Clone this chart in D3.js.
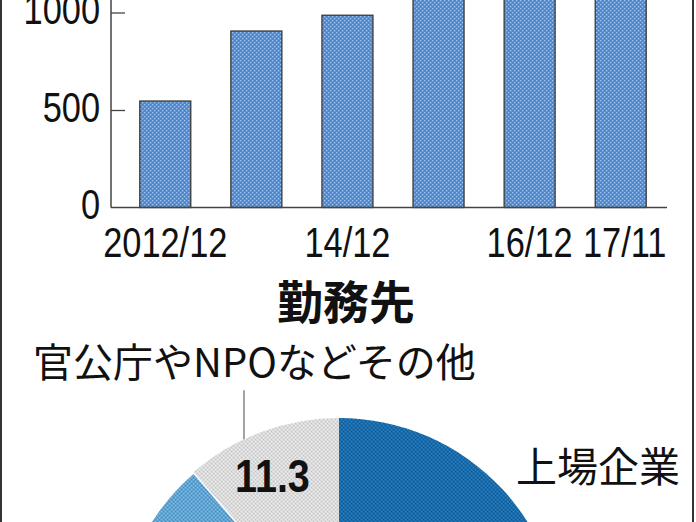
<!DOCTYPE html>
<html>
<head>
<meta charset="utf-8">
<script src="https://cdn.jsdelivr.net/npm/d3@7"></script>
<style>
  html, body { margin: 0; padding: 0; background: #fff; }
  svg { display: block; }
</style>
</head>
<body>
<svg id="chart" width="696" height="522"></svg>
<script>
// ---- data ----
const categories = ["2012/12", "13/12", "14/12", "15/12", "16/12", "17/11"];
const counts = [546, 905, 986, 1150, 1260, 1380];
const xTickLabels = ["2012/12", "", "14/12", "", "16/12", "17/11"];
const yTicks = [0, 500, 1000];

const pieTitle = "勤務先";
const pieLabels = ["上場企業", "非上場企業", "官公庁やNPOなどその他"];
const pieShares = [52.4, 36.3, 11.3];

// ---- setup ----
const svg = d3.select("#chart");
const W = 696, H = 522;
const numFont = "'Liberation Sans', Arial, sans-serif";
const SX = 0.8; // horizontal condensing of numeric labels
const jpFont = "'Noto Sans CJK JP', 'Noto Sans CJK SC', sans-serif";

const defs = svg.append("defs");
function dotPattern(id, base, dot, dark) {
  const p = defs.append("pattern").attr("id", id)
    .attr("width", 4).attr("height", 4).attr("patternUnits", "userSpaceOnUse");
  p.append("rect").attr("width", 4).attr("height", 4).attr("fill", base);
  p.append("rect").attr("x", 0).attr("y", 0).attr("width", 1.3).attr("height", 1.3).attr("fill", dot);
  p.append("rect").attr("x", 2).attr("y", 2).attr("width", 1.3).attr("height", 1.3).attr("fill", dot);
  if (dark) {
    p.append("rect").attr("x", 2).attr("y", 0).attr("width", 1).attr("height", 1).attr("fill", dark);
    p.append("rect").attr("x", 0).attr("y", 2).attr("width", 1).attr("height", 1).attr("fill", dark);
  }
}
dotPattern("barFill", "#4d8ad8", "#9fc6f2", "#4a80c6");
dotPattern("pieDark", "#1768a8", "#3683c0", "#0f5a96");
dotPattern("pieLight", "#5b9fcf", "#8fc0e2", "#4c8cbd");
dotPattern("pieGray", "#d9d9d9", "#eeeeee", "#c2c2c2");

// frame side lines
svg.append("line").attr("x1", 1).attr("x2", 1).attr("y1", 0).attr("y2", H)
  .attr("stroke", "#333").attr("stroke-width", 2);
svg.append("line").attr("x1", 693).attr("x2", 693).attr("y1", 0).attr("y2", H)
  .attr("stroke", "#333").attr("stroke-width", 2);

// ---- bar chart ----
const y = d3.scaleLinear().domain([0, 1000]).range([207.5, 12.5]);
const x = d3.scaleBand().domain(categories).range([119, 667])
  .paddingInner(0.44).paddingOuter(0.228);

const g = svg.append("g");

g.selectAll("rect.bar").data(categories).join("rect")
  .attr("class", "bar")
  .attr("x", d => x(d))
  .attr("width", x.bandwidth())
  .attr("y", (d, i) => y(counts[i]))
  .attr("height", (d, i) => y(0) - y(counts[i]))
  .attr("fill", "url(#barFill)")
  .attr("stroke", "#3a3a3a").attr("stroke-width", 1.3);

// y axis
const yAxis = d3.axisLeft(y).tickValues(yTicks).tickSize(-14).tickPadding(11)
  .tickFormat(d3.format("d"));
const yg = g.append("g").attr("transform", "translate(111,0)").call(yAxis);
yg.select(".domain").remove();
yg.selectAll(".tick line").attr("stroke", "#444").attr("stroke-width", 1.3);
yg.selectAll(".tick text").attr("font-family", numFont).attr("font-size", 43)
  .attr("fill", "#111").attr("dy", "0.26em")
  .attr("x", -11 / SX).attr("transform", `scale(${SX},1)`);
yg.selectAll(".tick").filter(d => d === 0).select("line").remove();
g.append("line").attr("x1", 111).attr("x2", 111)
  .attr("y1", y(0)).attr("y2", y(1100))
  .attr("stroke", "#444").attr("stroke-width", 1.5);

// x axis
const xAxis = d3.axisBottom(x).tickSize(0).tickPadding(19)
  .tickFormat((d, i) => xTickLabels[i]);
const xg = g.append("g").attr("transform", `translate(0,${y(0)})`).call(xAxis);
xg.select(".domain").remove();
xg.selectAll(".tick text").attr("font-family", numFont).attr("font-size", 43)
  .attr("fill", "#111").attr("transform", `scale(${SX},1)`);
xg.selectAll(".tick").filter(d => d === "17/11").select("text").attr("x", 4 / SX);
g.append("line").attr("x1", 111).attr("x2", 667)
  .attr("y1", y(0)).attr("y2", y(0))
  .attr("stroke", "#444").attr("stroke-width", 1.5);

// ---- pie chart ----
const cx = 339, cy = 641, R = 223;
svg.append("text").attr("x", 346).attr("y", 319)
  .attr("text-anchor", "middle").attr("font-family", jpFont)
  .attr("font-weight", 700).attr("font-size", 46).attr("fill", "#111")
  .text(pieTitle);

const pie = d3.pie().sort(null).value(d => d);
const arcs = pie(pieShares);
const arc = d3.arc().innerRadius(0).outerRadius(R);
const fills = ["url(#pieDark)", "url(#pieLight)", "url(#pieGray)"];

const pg = svg.append("g").attr("transform", `translate(${cx},${cy})`);
pg.selectAll("path").data(arcs).join("path")
  .attr("d", arc)
  .attr("fill", (d, i) => fills[i])
  .attr("stroke", (d, i) => i === 1 ? "#fff" : "none")
  .attr("stroke-width", 3);

// value label for その他
const SXV = 0.86;
const other = arcs[2];
const labelArc = d3.arc().innerRadius(177).outerRadius(177);
const [lx, ly] = labelArc.centroid(other);
pg.append("text").attr("x", (lx - 5) / SXV).attr("y", ly)
  .attr("transform", `scale(${SXV},1)`)
  .attr("dy", "0.36em").attr("text-anchor", "middle")
  .attr("font-family", numFont).attr("font-weight", 700).attr("font-size", 46)
  .attr("fill", "#111").text(pieShares[2].toFixed(1));

// leader line for その他
const la = other.startAngle + 0.38 * (other.endAngle - other.startAngle);
const ex = R * Math.sin(la), ey = -R * Math.cos(la);
pg.append("line").attr("x1", ex).attr("x2", ex)
  .attr("y1", ey).attr("y2", ey - 49)
  .attr("stroke", "#666").attr("stroke-width", 1.2);

svg.append("text").attr("x", 33).attr("y", 377)
  .attr("font-family", jpFont).attr("font-weight", 400).attr("font-size", 40)
  .attr("fill", "#111").text(pieLabels[2]);

svg.append("text").attr("x", 516).attr("y", 482)
  .attr("font-family", jpFont).attr("font-weight", 400).attr("font-size", 41)
  .attr("fill", "#111").text(pieLabels[0]);
</script>
</body>
</html>
